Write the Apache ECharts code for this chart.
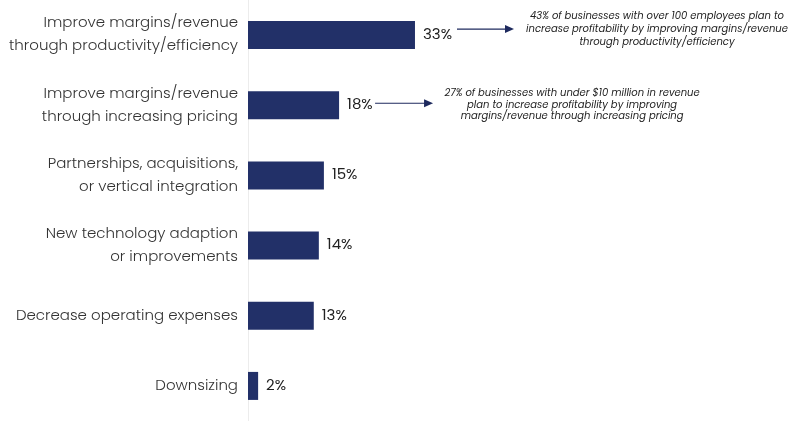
<html>
<head>
<meta charset="UTF-8">
<title>Profitability plans</title>
<script src="https://cdn.jsdelivr.net/npm/echarts@6/dist/echarts.min.js"></script>
<style>
	html, body { margin: 0; padding: 0; background: #fff; }
	#main { width: 800px; height: 421px; }
</style>
</head>
<body>
<div id="main"></div>
<script type="text/javascript">
	// data
	var categories = [
		'Improve margins/revenue\nthrough productivity/efficiency',
		'Improve margins/revenue\nthrough increasing pricing',
		'Partnerships, acquisitions,\nor vertical integration',
		'New technology adaption\nor improvements',
		'Decrease operating expenses',
		'Downsizing'
	];
	var values = [33, 18, 15, 14, 13, 2];

	// side notes, tied to a bar index
	var notes = [
		{ bar: 0, text: '43% of businesses with over 100 employees plan to\nincrease profitability by improving margins/revenue\nthrough productivity/efficiency', gap: 42, len: 57, arrowDy: -6, textDx: 242, textDy: -6, lh: 13 },
		{ bar: 1, text: '27% of businesses with under $10 million in revenue\nplan to increase profitability by improving\nmargins/revenue through increasing pricing', gap: 36, len: 58, arrowDy: -2, textDx: 233, textDy: 0, lh: 11.5 }
	];

	var font = "Poppins, 'Noto Sans', sans-serif";
	var myChart = echarts.init(document.getElementById('main'));

	var option = {
		animation: false,
		grid: { left: 248, right: 46, top: -2, bottom: -3, containLabel: false },
		xAxis: {
			type: 'value', min: 0, max: 100,
			show: false
		},
		yAxis: {
			type: 'category',
			inverse: true,
			data: categories,
			axisTick: { show: false },
			axisLine: { show: true, lineStyle: { color: '#ececec', width: 1 } },
			axisLabel: {
				margin: 10,
				fontFamily: font,
				fontWeight: 300,
				fontSize: 15,
				lineHeight: 23,
				color: '#333'
			}
		},
		series: [{
			type: 'bar',
			data: values,
			barWidth: 28,
			itemStyle: { color: '#223068' },
			label: {
				show: true,
				position: 'right',
				distance: 8,
				formatter: '{c}%',
				fontFamily: font,
				fontSize: 15,
				color: '#222'
			}
		}]
	};
	myChart.setOption(option);

	// arrows + notes anchored to bar ends
	var elements = [];
	for (var i = 0; i < notes.length; i++) {
		var n = notes[i];
		var p = myChart.convertToPixel({ xAxisIndex: 0, yAxisIndex: 0 }, [values[n.bar], n.bar]);
		var y = p[1] + n.arrowDy;
		var x0 = p[0] + n.gap;
		var x1 = x0 + n.len;
		elements.push({
			type: 'line',
			shape: { x1: x0, y1: y, x2: x1 - 6, y2: y },
			style: { stroke: '#1e2a5e', lineWidth: 1.2 }
		});
		elements.push({
			type: 'polygon',
			shape: { points: [[x1 - 9, y - 4], [x1, y], [x1 - 9, y + 4]] },
			style: { fill: '#1e2a5e' }
		});
		elements.push({
			type: 'text',
			x: p[0] + n.textDx,
			y: p[1] + n.textDy,
			style: {
				text: n.text,
				fontFamily: font,
				fontStyle: 'italic',
				fontSize: 10,
				lineHeight: n.lh,
				fill: '#222',
				align: 'center',
				verticalAlign: 'middle'
			}
		});
	}
	myChart.setOption({ graphic: { elements: elements } });
</script>
</body>
</html>
